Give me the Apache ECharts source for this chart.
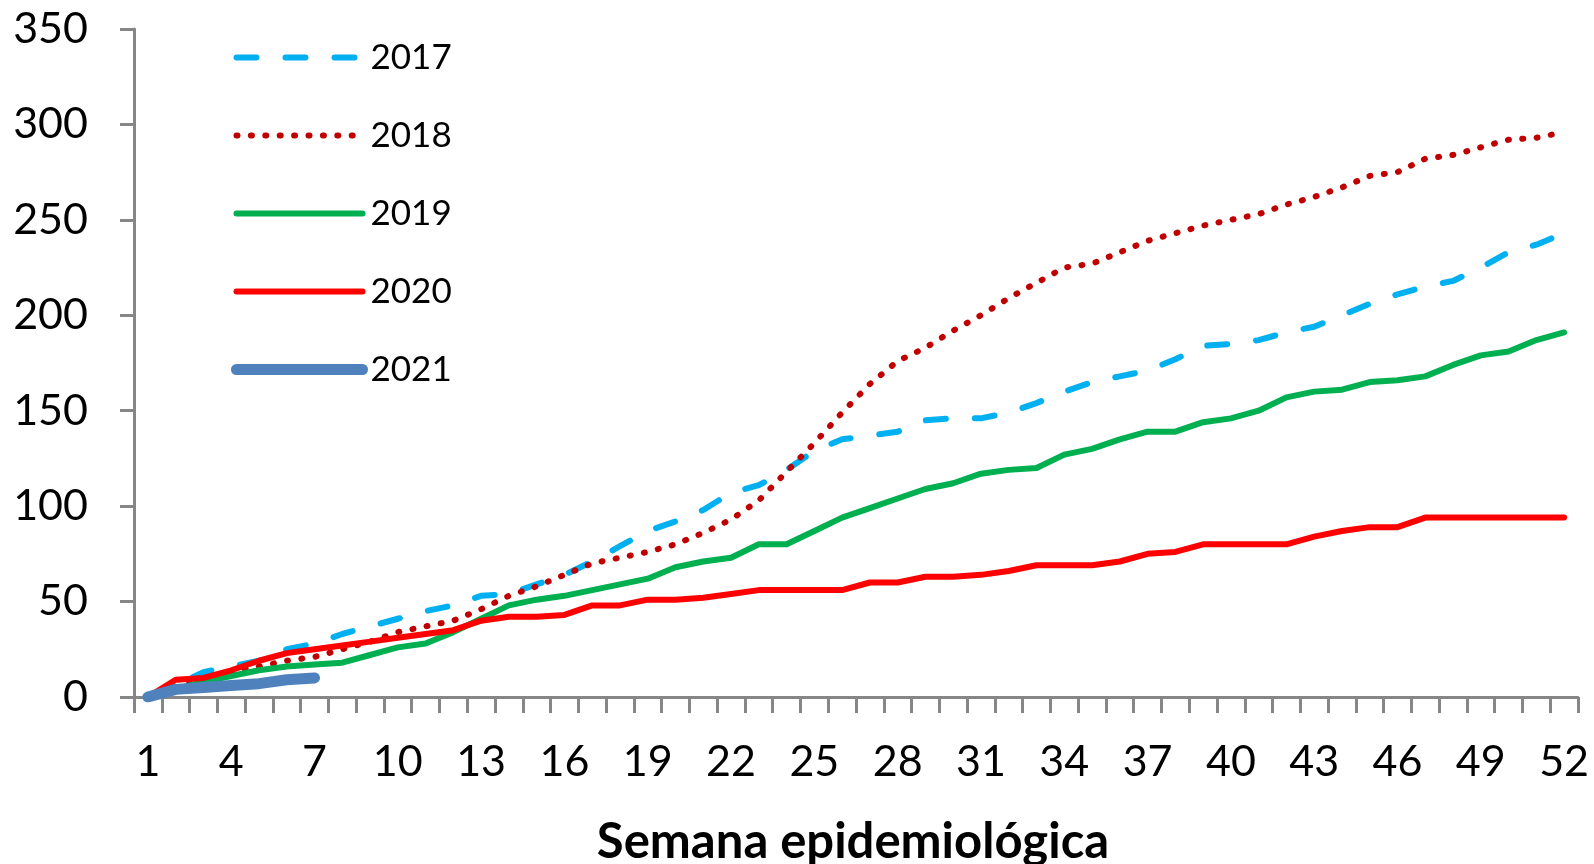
<!DOCTYPE html>
<html>
<head>
<meta charset="utf-8">
<script src="https://cdn.jsdelivr.net/npm/echarts@6/dist/echarts.min.js"></script>
<style>
  html, body { margin: 0; padding: 0; background: #fff; }
  #chart { width: 1594px; height: 864px; }
</style>
</head>
<body>
<div id="chart"></div>
<script>
// semanas epidemiológicas
const weeks = ['1','2','3','4','5','6','7','8','9','10','11','12','13','14','15','16','17','18','19','20',
  '21','22','23','24','25','26','27','28','29','30','31','32','33','34','35','36','37','38','39','40',
  '41','42','43','44','45','46','47','48','49','50','51','52'];

// casos acumulados por año
const y2017 = [0,6,13,16,19,25,28,33,37,41,45,48,53,54,59,64,71,79,87,92,98,107,111,119,129,135,137,139,145,146,
  146,149,154,160,165,168,171,177,184,185,187,191,194,200,206,211,215,218,225,233,237,243];
const y2018 = [0,5,9,13,16,19,21,25,29,34,37,40,46,53,58,64,70,73,76,80,86,93,103,118,133,149,164,176,183,192,
  200,209,217,225,227,233,239,243,247,250,253,258,262,267,273,275,282,284,288,292,293,296];
const y2019 = [0,4,8,11,14,16,17,18,22,26,28,34,41,48,51,53,56,59,62,68,71,73,80,80,87,94,99,104,109,112,
  117,119,120,127,130,135,139,139,144,146,150,157,160,161,165,166,168,174,179,181,187,191];
const y2020 = [0,9,10,14,19,23,25,27,29,31,33,35,40,42,42,43,48,48,51,51,52,54,56,56,56,56,60,60,63,63,
  64,66,69,69,69,71,75,76,80,80,80,80,84,87,89,89,94,94,94,94,94,94];
const y2021 = [0,4,5,6,7,9,10];

const yTicks = { min: 0, max: 350, step: 50 };

const axisGrey = '#868686';
const font = 'Lato, "Liberation Sans", sans-serif';

function mkLine(name, data, color, width, type) {
  return {
    name: name,
    type: 'line',
    data: data,
    symbol: 'none',
    showSymbol: false,
    silent: true,
    lineStyle: { color: color, width: width, type: type, cap: 'round', join: 'round' },
    itemStyle: { color: color },
    emphasis: { disabled: true }
  };
}

const chart = echarts.init(document.getElementById('chart'));
chart.setOption({
  animation: false,
  backgroundColor: '#fff',
  grid: { left: 134, right: 16, top: 29, bottom: 167, containLabel: false, outerBoundsMode: 'none' },
  legend: {
    orient: 'vertical',
    left: 231,
    top: 40,
    padding: 0,
    itemWidth: 126,
    itemHeight: 40,
    itemGap: 43,
    selectedMode: false,
    textStyle: { fontFamily: font, fontSize: 35, color: '#000', padding: [0, 0, 0, 3] },
    lineStyle: { width: 'inherit' },
    itemStyle: { color: 'rgba(0,0,0,0)', borderWidth: 0, opacity: 0 },
    data: ['2017', '2018', '2019', '2020', '2021']
  },
  xAxis: {
    type: 'category',
    data: weeks,
    boundaryGap: true,
    name: 'Semana epidemiológica',
    nameLocation: 'middle',
    nameGap: 121,
    nameTextStyle: { fontFamily: font, fontSize: 49, fontWeight: 'bold', color: '#000', padding: [0, 6, 0, 0] },
    axisLine: { lineStyle: { color: axisGrey, width: 3 } },
    axisTick: { show: true, interval: 0, length: 16, lineStyle: { color: axisGrey, width: 3 } },
    axisLabel: { interval: 2, margin: 44, fontFamily: font, fontSize: 43, color: '#000' },
    splitLine: { show: false }
  },
  yAxis: {
    type: 'value',
    min: yTicks.min,
    max: yTicks.max,
    interval: yTicks.step,
    axisLine: { show: true, lineStyle: { color: axisGrey, width: 3 } },
    axisTick: { show: true, length: 14, lineStyle: { color: axisGrey, width: 3 } },
    axisLabel: { margin: 46, fontFamily: font, fontSize: 43, color: '#000' },
    splitLine: { show: false }
  },
  series: [
    mkLine('2017', y2017, '#00B0F0', 6, [20, 29]),
    mkLine('2018', y2018, '#C00000', 6, [1, 13.4]),
    mkLine('2019', y2019, '#00B050', 6, 'solid'),
    mkLine('2020', y2020, '#FF0000', 6, 'solid'),
    mkLine('2021', y2021, '#4F81BD', 11, 'solid')
  ]
});
</script>
</body>
</html>
